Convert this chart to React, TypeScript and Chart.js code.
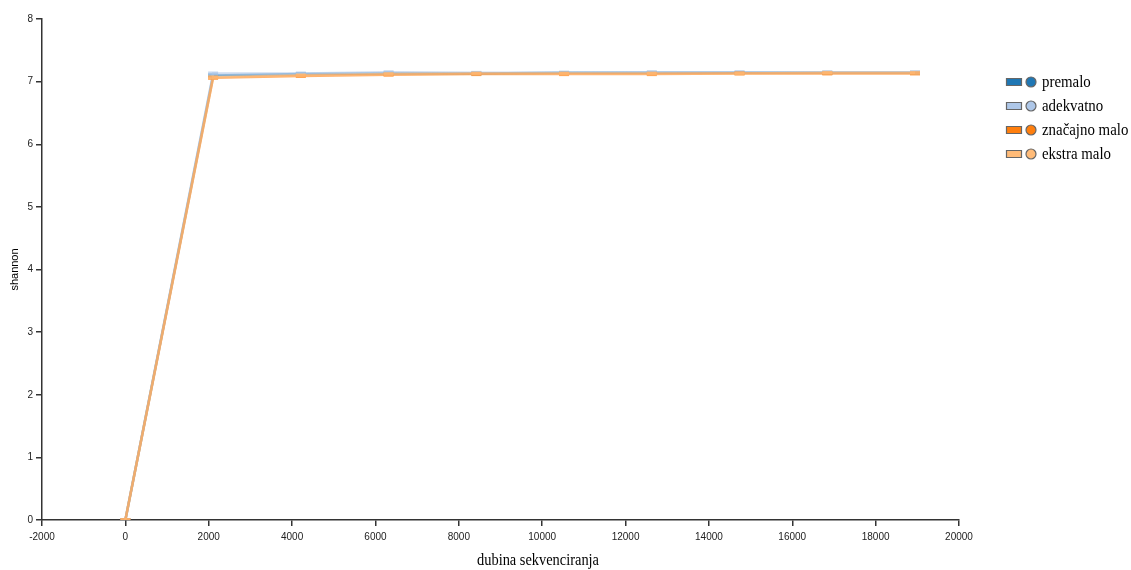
import React, { useEffect, useRef } from "react";
import { Chart, registerables } from "chart.js";

Chart.register(...registerables);

const depths = [0, 2105, 4210, 6315, 8420, 10525, 12630, 14735, 16840, 18945];
const seriesNames = ["premalo", "adekvatno", "značajno malo", "ekstra malo"];
const premalo = [0, 7.1, 7.12, 7.13, 7.13, 7.14, 7.14, 7.14, 7.14, 7.14];
const adekvatno = [0, 7.13, 7.13, 7.15, 7.14, 7.14, 7.15, 7.15, 7.15, 7.15];
const znacajnoMalo = [0, 7.06, 7.09, 7.11, 7.12, 7.12, 7.12, 7.13, 7.13, 7.13];
const ekstraMalo = [0, 7.07, 7.1, 7.12, 7.13, 7.13, 7.13, 7.13, 7.14, 7.14];
const seriesColors = ["#1f77b4", "#aec7e8", "#ff7f0e", "#ffbb78"];
const xTitle = "dubina sekvenciranja";
const yTitle = "shannon";

function hexA(hex: string, a: number) {
  const r = parseInt(hex.slice(1, 3), 16);
  const g = parseInt(hex.slice(3, 5), 16);
  const b = parseInt(hex.slice(5, 7), 16);
  return `rgba(${r},${g},${b},${a})`;
}

const SERIF = '16px "Liberation Serif", "Times New Roman", serif';

const legendPlugin = {
  id: "customLegend",
  afterDraw(chart: any) {
    const ctx = chart.ctx;
    ctx.save();
    chart.data.datasets.forEach((ds: any, i: number) => {
      const y = 82 + i * 24;
      const color = ds.legendColor;
      ctx.fillStyle = color;
      ctx.strokeStyle = "#666";
      ctx.lineWidth = 1.2;
      ctx.beginPath();
      ctx.rect(1006.5, y - 3.5, 15, 7);
      ctx.fill();
      ctx.stroke();
      ctx.beginPath();
      ctx.arc(1031, y, 5, 0, Math.PI * 2);
      ctx.fill();
      ctx.stroke();
      ctx.save();
      ctx.translate(1042, y + 1);
      ctx.scale(0.93, 1);
      ctx.fillStyle = "#000";
      ctx.font = SERIF;
      ctx.textBaseline = "middle";
      ctx.textAlign = "left";
      ctx.fillText(ds.label, 0, 0);
      ctx.restore();
    });
    // x axis title
    ctx.save();
    ctx.translate(538, 561);
    ctx.scale(0.9, 1);
    ctx.fillStyle = "#000";
    ctx.font = SERIF;
    ctx.textBaseline = "middle";
    ctx.textAlign = "center";
    ctx.fillText(xTitle, 0, 0);
    ctx.restore();
    ctx.restore();
  },
};

export default function App() {
  const ref = useRef<HTMLCanvasElement>(null);
  useEffect(() => {
    if (!ref.current) return;
    const all = [premalo, adekvatno, znacajnoMalo, ekstraMalo];
    const chart = new Chart(ref.current, {
      type: "line",
      data: {
        datasets: all.map((vals, i) => ({
          label: seriesNames[i],
          legendColor: seriesColors[i],
          order: 3 - i,
          data: depths.map((d, j) => ({ x: d, y: vals[j] })),
          borderColor: hexA(seriesColors[i], 0.6),
          borderWidth: 2.5,
          pointStyle: "line",
          pointRadius: 5,
          pointBorderWidth: 4,
          pointBorderColor: hexA(seriesColors[i], 0.7),
          pointBackgroundColor: hexA(seriesColors[i], 0.7),
          tension: 0,
          fill: false,
        })) as any,
      },
      options: {
        animation: false,
        responsive: false,
        maintainAspectRatio: false,
        layout: { padding: { top: 19, right: 172, left: 0, bottom: 0 } },
        plugins: { legend: { display: false }, tooltip: { enabled: false } },
        scales: {
          x: {
            type: "linear",
            min: -2000,
            max: 20000,
            afterFit: (s: any) => {
              s.height = 50;
            },
            ticks: {
              stepSize: 2000,
              color: "#222",
              font: { family: '"Liberation Sans", Arial, sans-serif', size: 10 },
              padding: 5,
              maxRotation: 0,
              callback: (v: any) => String(v),
            },
            grid: {
              display: true,
              drawOnChartArea: false,
              drawTicks: true,
              tickLength: 6,
              color: "#333",
              lineWidth: 1.5,
            },
            border: { display: true, color: "#333", width: 1.5 },
            title: { display: false },
          },
          y: {
            type: "linear",
            min: 0,
            max: 8,
            afterFit: (s: any) => {
              s.width = 42;
            },
            ticks: {
              stepSize: 1,
              color: "#222",
              font: { family: '"Liberation Sans", Arial, sans-serif', size: 10 },
              padding: 3,
              callback: (v: any) => String(v),
            },
            grid: {
              display: true,
              drawOnChartArea: false,
              drawTicks: true,
              tickLength: 6,
              color: "#333",
              lineWidth: 1.5,
            },
            border: { display: true, color: "#333", width: 1.5 },
            title: {
              display: true,
              text: yTitle,
              color: "#000",
              font: { family: '"Liberation Sans", Arial, sans-serif', size: 11 },
              padding: { top: 8, bottom: 0 },
            },
          },
        },
      },
      plugins: [legendPlugin],
    });
    return () => chart.destroy();
  }, []);
  return (
    <div style={{ position: "fixed", left: 0, top: 0, width: 1131, height: 570, background: "#fff" }}>
      <canvas ref={ref} width={1131} height={570} style={{ width: 1131, height: 570 }} />
    </div>
  );
}
